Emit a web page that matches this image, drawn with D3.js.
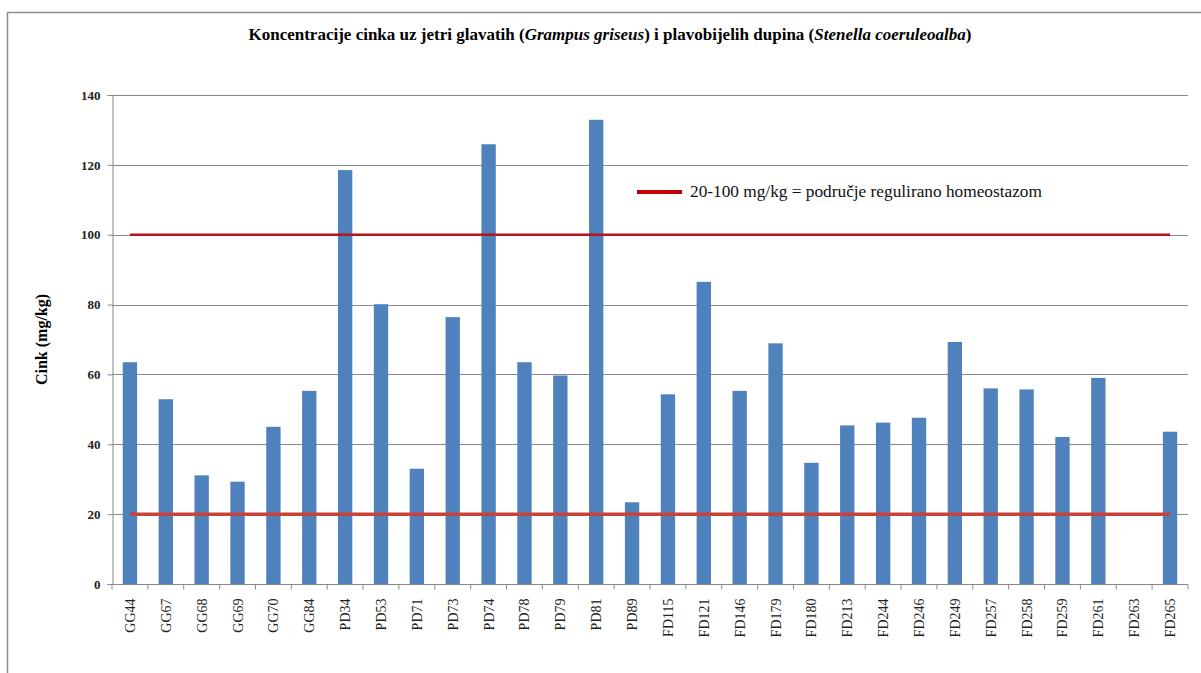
<!DOCTYPE html>
<html>
<head>
<meta charset="utf-8">
<script src="https://cdn.jsdelivr.net/npm/d3@7"></script>
<style>
  body { margin: 0; background: #fff; }
  svg { display: block; }
  svg text { font-family: "Liberation Serif", "Times New Roman", "DejaVu Serif", serif; }
</style>
</head>
<body>
<div id="chart"></div>
<script>
const width = 1201, height = 673;
const margin = ({top: 95, right: 13, bottom: 89, left: 112});
const serif = '"Liberation Serif", "Times New Roman", "DejaVu Serif", serif';

// data
const samples = ["GG44","GG67","GG68","GG69","GG70","GG84","PD34","PD53","PD71","PD73","PD74","PD78","PD79","PD81","PD89",
  "FD115","FD121","FD146","FD179","FD180","FD213","FD244","FD246","FD249","FD257","FD258","FD259","FD261","FD263","FD265"];
const zinc = [63.5,52.9,31.1,29.3,45.0,55.3,118.5,80.1,33.0,76.4,125.9,63.5,59.7,132.9,23.4,
  54.3,86.5,55.3,68.9,34.7,45.4,46.2,47.6,69.3,56.0,55.7,42.1,59.0,null,43.6];
const limits = [100, 20];
const yTicks = [0,20,40,60,80,100,120,140];

const svg = d3.select("#chart").append("svg")
    .attr("width", width)
    .attr("height", height);

// outer chart border
svg.append("rect")
    .attr("x", 7.5).attr("y", 12.5)
    .attr("width", 1210).attr("height", 700)
    .attr("fill", "none")
    .attr("stroke", "#8c8c8c")
    .attr("stroke-width", 1.5);

const x = d3.scaleBand()
    .domain(samples)
    .range([margin.left, width - margin.right])
    .paddingInner(0.6)
    .paddingOuter(0.3);
const xc = d3.scalePoint()
    .domain(samples)
    .range([margin.left, width - margin.right])
    .padding(0.5);
const y = d3.scaleLinear()
    .domain([0, 140])
    .range([height - margin.bottom, margin.top]);

// gridlines
svg.append("g")
    .selectAll("line")
    .data(yTicks.slice(1))
    .enter().append("line")
    .attr("x1", margin.left).attr("x2", width - margin.right)
    .attr("y1", d => Math.round(y(d)) + 0.5).attr("y2", d => Math.round(y(d)) + 0.5)
    .attr("stroke", "#8a8a8a");

// y axis
const yAxis = svg.append("g")
    .attr("transform", `translate(${margin.left + 0.5},0)`)
    .call(d3.axisLeft(y).tickValues(yTicks).tickSize(5).tickPadding(7));
yAxis.attr("font-family", null);
yAxis.selectAll("text")
    .style("font-family", serif)
    .style("font-size", "13px")
    .attr("font-weight", "bold")
    .attr("fill", "#222");
yAxis.selectAll("line,path").attr("stroke", "#8a8a8a");

// bars
svg.append("g")
    .selectAll("rect")
    .data(samples.map((s, i) => ({s: s, v: zinc[i]})).filter(d => d.v != null))
    .enter().append("rect")
    .attr("x", d => x(d.s))
    .attr("y", d => y(d.v))
    .attr("width", x.bandwidth())
    .attr("height", d => y(0) - y(d.v))
    .attr("fill", "#4f81bd");

// x axis
const xAxis = svg.append("g")
    .attr("transform", `translate(0,${y(0) + 0.5})`);
xAxis.append("line")
    .attr("x1", margin.left).attr("x2", width - margin.right)
    .attr("stroke", "#8a8a8a");
xAxis.selectAll("line.tick")
    .data(d3.range(samples.length + 1))
    .enter().append("line")
    .attr("class", "tick")
    .attr("x1", i => margin.left + i * (width - margin.left - margin.right) / samples.length)
    .attr("x2", i => margin.left + i * (width - margin.left - margin.right) / samples.length)
    .attr("y1", 0).attr("y2", 5)
    .attr("stroke", "#8a8a8a");
xAxis.selectAll("text")
    .data(samples)
    .enter().append("text")
    .attr("transform", d => `translate(${xc(d) + 5},14) rotate(-90)`)
    .attr("text-anchor", "end")
    .style("font-family", serif)
    .style("font-size", "14px")
    .attr("fill", "#222")
    .text(d => d);

// reference lines (20 and 100 mg/kg)
const line = d3.line().x(d => xc(d)).y(() => 0);
svg.append("path")
    .datum(samples)
    .attr("transform", `translate(0,${y(limits[0])})`)
    .attr("d", line)
    .attr("fill", "none")
    .attr("stroke", "#b3151b")
    .attr("stroke-width", 2.5);
svg.append("path")
    .datum(samples)
    .attr("transform", `translate(0,${y(limits[1])})`)
    .attr("d", line)
    .attr("fill", "none")
    .attr("stroke", "#c8423a")
    .attr("stroke-width", 3.5);

// legend
svg.append("line")
    .attr("x1", 637).attr("x2", 682)
    .attr("y1", 192).attr("y2", 192)
    .attr("stroke", "#c00000")
    .attr("stroke-width", 4);
svg.append("text")
    .attr("x", 690).attr("y", 197)
    .style("font-family", serif)
    .style("font-size", "17.3px")
    .attr("fill", "#111")
    .text("20-100 mg/kg = područje regulirano homeostazom");

// title
const title = svg.append("text")
    .attr("x", 610).attr("y", 40)
    .attr("text-anchor", "middle")
    .style("font-family", serif)
    .style("font-size", "17px")
    .attr("font-weight", "bold")
    .attr("fill", "#000");
title.append("tspan").text("Koncentracije cinka uz jetri glavatih (");
title.append("tspan").attr("font-style", "italic").text("Grampus griseus");
title.append("tspan").text(") i plavobijelih dupina (");
title.append("tspan").attr("font-style", "italic").text("Stenella coeruleoalba");
title.append("tspan").text(")");

// y axis title
svg.append("text")
    .attr("transform", `translate(47,${y(70)}) rotate(-90)`)
    .attr("text-anchor", "middle")
    .style("font-family", serif)
    .style("font-size", "16px")
    .attr("font-weight", "bold")
    .attr("fill", "#000")
    .text("Cink (mg/kg)");
</script>
</body>
</html>
